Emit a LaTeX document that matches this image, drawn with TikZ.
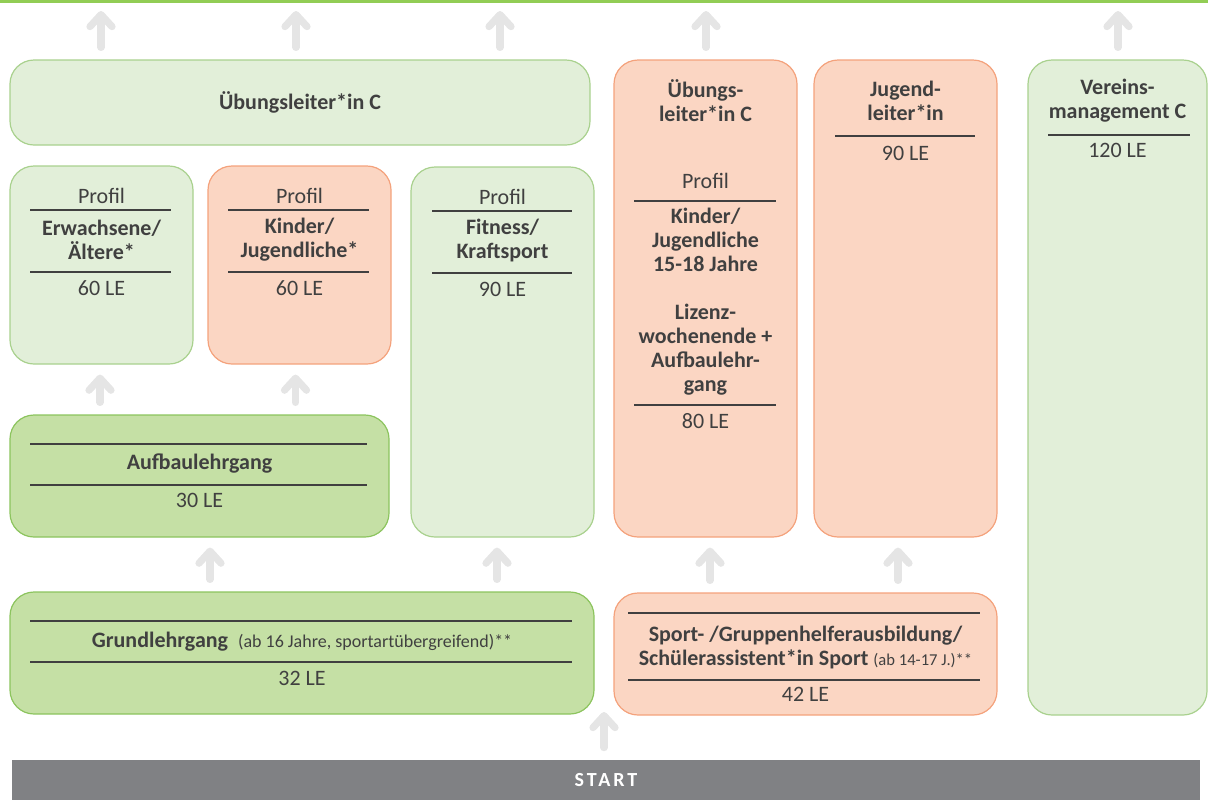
\documentclass[tikz,border=0pt]{standalone}
\usepackage{fontspec}
\setmainfont{Carlito}
\usetikzlibrary{arrows.meta}
\definecolor{lgreen}{HTML}{E2EFD9}
\definecolor{lgreenline}{HTML}{A9D18E}
\definecolor{dgreen}{HTML}{C5E0A5}
\definecolor{dgreenline}{HTML}{8CC45E}
\definecolor{peach}{HTML}{FBD6C3}
\definecolor{peachline}{HTML}{F4A27C}
\definecolor{txtgray}{HTML}{404040}
\definecolor{arrgray}{HTML}{E5E5E5}
\definecolor{bargray}{HTML}{808184}
\definecolor{topgreen}{HTML}{92CD55}

\tikzset{
  box/.style={rounded corners=12pt, inner sep=0pt, line width=0.6pt},
  lg/.style={box, fill=lgreen, draw=lgreenline},
  dg/.style={box, fill=dgreen, draw=dgreenline},
  pe/.style={box, fill=peach, draw=peachline},
  txt/.style={text=txtgray, align=center, inner sep=0pt, font=\fontsize{11}{12}\selectfont},
  bf/.style={txt, font=\fontsize{11}{12}\selectfont\bfseries},
  sep/.style={draw=txtgray, line width=0.6pt},
  up/.style={draw=arrgray, line width=3.6pt, line cap=round,
    -{Straight Barb[length=6pt,width=11pt,round]}, shorten <=6pt, shorten >=5pt},
}

\begin{document}
\begin{tikzpicture}[x=0.5pt, y=-0.5pt]
\useasboundingbox (0,0) rectangle (1208,800);
\fill[topgreen] (0,0) rectangle (1208,3);

% boxes
\node[lg, bf, minimum width=290pt, minimum height=42.5pt] (ulc) at (300,102.5) {Übungsleiter*in C};
\node[lg, minimum width=91.5pt, minimum height=99pt] (erw) at (101.5,265) {};
\node[pe, minimum width=91.5pt, minimum height=99pt] (kind) at (299.5,265) {};
\node[lg, minimum width=91.5pt, minimum height=185pt] (fit) at (502.5,352) {};
\node[dg, minimum width=189.5pt, minimum height=61pt] (aufb) at (199.5,476) {};
\node[dg, minimum width=292pt, minimum height=61pt] (grund) at (302,653) {};
\node[pe, minimum width=91.5pt, minimum height=238.5pt] (ueb) at (705.5,298.5) {};
\node[pe, minimum width=91.5pt, minimum height=238.5pt] (jl) at (905.5,298.5) {};
\node[pe, minimum width=191.5pt, minimum height=61pt] (sport) at (805.5,654) {};
\node[lg, minimum width=89.5pt, minimum height=327.5pt] (vm) at (1117.5,387.5) {};
\node[fill=bargray, text=white, inner sep=0pt, minimum width=594pt, minimum height=20pt,
  font=\fontsize{10}{11}\selectfont\bfseries\addfontfeature{LetterSpace=15}] (start) at (606,780) {START};

% Profil Erwachsene
\node[txt] (erw-p) at (101.5,196) {Profil};
\draw[sep] (30,210) -- (171,210);
\node[bf] (erw-t) at (101.5,239.5) {Erwachsene/\\Ältere*};
\draw[sep] (30,272) -- (171,272);
\node[txt] (erw-le) at (101.5,288) {60 LE};

% Profil Kinder
\node[txt] (kind-p) at (299.5,196) {Profil};
\draw[sep] (228,210) -- (369,210);
\node[bf] (kind-t) at (299.5,239.5) {Kinder/\\Jugendliche*};
\draw[sep] (228,272) -- (369,272);
\node[txt] (kind-le) at (299.5,288) {60 LE};

% Profil Fitness
\node[txt] (fit-p) at (502.5,197) {Profil};
\draw[sep] (432,211) -- (572,211);
\node[bf] (fit-t) at (502.5,240.5) {Fitness/\\Kraftsport};
\draw[sep] (432,273) -- (572,273);
\node[txt] (fit-le) at (502.5,289) {90 LE};

% Aufbaulehrgang
\draw[sep] (30,444) -- (367,444);
\node[bf] (aufb-t) at (199.5,464) {Aufbaulehrgang};
\draw[sep] (30,485) -- (367,485);
\node[txt] (aufb-le) at (199.5,500) {30 LE};

% Grundlehrgang
\draw[sep] (30,621) -- (572,621);
\node[txt] (grund-t) at (302,642) {\textbf{Grundlehrgang}\ \ {\fontsize{9}{10}\selectfont(ab 16 Jahre, sportartübergreifend)**}};
\draw[sep] (30,662) -- (572,662);
\node[txt] (grund-le) at (302,678) {32 LE};

% Uebungsleiter C Kinder/Jugendliche
\node[bf] (ueb-h) at (705.5,100.5) {Übungs-\\leiter*in C};
\node[txt] (ueb-p) at (705.5,181) {Profil};
\draw[sep] (634,201) -- (776,201);
\node[bf] (ueb-t) at (705.5,301.5) {Kinder/\\Jugendliche\\15-18 Jahre\\[12pt]Lizenz-\\wochenende +\\Aufbaulehr-\\gang};
\draw[sep] (634,405) -- (776,405);
\node[txt] (ueb-le) at (705.5,421) {80 LE};

% Jugendleiter
\node[bf] (jl-h) at (905.5,101) {Jugend-\\leiter*in};
\draw[sep] (835,136) -- (975,136);
\node[txt] (jl-le) at (905.5,153) {90 LE};

% Vereinsmanagement
\node[bf] (vm-h) at (1117.5,100.5) {Vereins-\\management C};
\draw[sep] (1048,135) -- (1190,135);
\node[txt] (vm-le) at (1117.5,150) {120 LE};

% Sport-/Gruppenhelfer
\draw[sep] (628,613) -- (980,613);
\node[bf] (sport-t) at (805.5,647) {Sport- /Gruppenhelferausbildung/\\Schülerassistent*in Sport {\fontsize{8.3}{9}\selectfont\mdseries(ab 14-17 J.)**}};
\draw[sep] (628,680) -- (980,680);
\node[txt] (sport-le) at (805.5,694) {42 LE};

% arrows
\coordinate (t1) at (101,11);
\coordinate (t2) at (296,11);
\coordinate (t3) at (500,11);
\coordinate (t4) at (706,11);
\coordinate (t5) at (1118,11);
\coordinate (mid) at (604,712);
\draw[up, shorten >=0pt] (ulc.north -| t1) -- (t1);
\draw[up, shorten >=0pt] (ulc.north -| t2) -- (t2);
\draw[up, shorten >=0pt] (ulc.north -| t3) -- (t3);
\draw[up, shorten >=0pt] (ueb.north -| t4) -- (t4);
\draw[up, shorten >=0pt] (vm.north -| t5) -- (t5);
\draw[up] ([xshift=-0.75pt]erw.south |- aufb.north) -- ([xshift=-0.75pt]erw.south);
\draw[up] ([xshift=-2pt]kind.south |- aufb.north) -- ([xshift=-2pt]kind.south);
\draw[up] ([xshift=5.25pt]aufb.south |- grund.north) -- ([xshift=5.25pt]aufb.south);
\draw[up] ([xshift=-2.75pt]fit.south |- grund.north) -- ([xshift=-2.75pt]fit.south);
\draw[up] ([xshift=2.25pt]ueb.south |- sport.north) -- ([xshift=2.25pt]ueb.south);
\draw[up] ([xshift=-3.75pt]jl.south |- sport.north) -- ([xshift=-3.75pt]jl.south);
\draw[up, shorten >=0pt] (start.north -| mid) -- (mid);
\end{tikzpicture}
\end{document}
